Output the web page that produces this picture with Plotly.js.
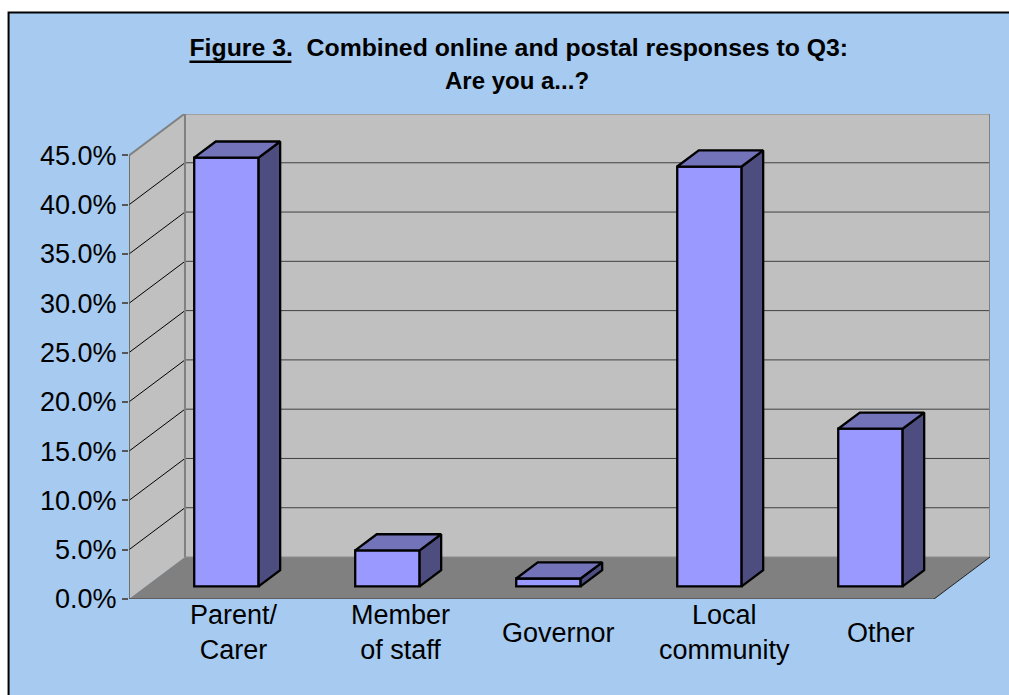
<!DOCTYPE html>
<html>
<head>
<meta charset="utf-8">
<script src="https://cdn.plot.ly/plotly-3.0.1.min.js"></script>
<style>html,body{margin:0;padding:0;background:#fff;overflow:hidden}</style>
</head>
<body>
<div id="chart" style="width:1009px;height:695px"></div>
<script>
// ---- data ----
const categoryLines = [["Parent/", "Carer"], ["Member", "of staff"], ["Governor"], ["Local", "community"], ["Other"]];
const shareValues = [43.5, 3.65, 0.8, 42.6, 16.0];
const tickValues = [0, 5, 10, 15, 20, 25, 30, 35, 40, 45];
const tickLabels = ["0.0%", "5.0%", "10.0%", "15.0%", "20.0%", "25.0%", "30.0%", "35.0%", "40.0%", "45.0%"];
const labelCenters = [0.652, 1.685, 2.667, 3.696, 4.671];
const titleLine1 = "Figure 3.  Combined online and postal responses to Q3:";
const titleLine2 = "Are you a...?";

// ---- geometry of the oblique view ----
const W = 1009, H = 695;
const left = 128.5, bottom = 598.7, frontRight = 934, backTop = 113.5, backRight = 990;
const top45 = 155;
const catPx = (frontRight - left) / 5, valPx = (bottom - top45) / 45;
const xMax = (backRight - left) / catPx, yMax = (bottom - backTop) / valPx;
const depthX = (backRight - frontRight) / catPx, depthY = 42 / valPx;
const barLeft = 0.405, barWidth = 0.4, barD0 = 0.30, barD1 = 0.685;
const paperX = p => (p - left) / (backRight - left);
const paperY = p => (bottom - p) / (bottom - backTop);

const poly = (pts, fill, color, width) => ({
  type: 'path', xref: 'x', yref: 'y', layer: 'below',
  path: 'M' + pts.map(p => p[0] + ',' + p[1]).join('L') + (fill ? 'Z' : ''),
  fillcolor: fill || 'rgba(0,0,0,0)', line: {color: color || 'rgba(0,0,0,0)', width: width || 0}
});
const F = 5; // categories
const shapes = [
  {type: 'rect', xref: 'paper', yref: 'paper', layer: 'below',
   x0: paperX(8), x1: paperX(1030), y0: paperY(12), y1: paperY(720),
   fillcolor: '#A6CAF0', line: {color: '#000', width: 2}},
  poly([[0, 0], [depthX, depthY], [depthX, 45 + depthY], [0, 45]], '#C0C0C0'),
  poly([[depthX, depthY], [F + depthX, depthY], [F + depthX, 45 + depthY], [depthX, 45 + depthY]], '#C0C0C0'),
  poly([[0, 0], [F, 0], [F + depthX, depthY], [depthX, depthY]], '#808080'),
  {type: 'line', xref: 'paper', yref: 'paper', layer: 'above',
   x0: paperX(189), x1: paperX(291), y0: paperY(61.3), y1: paperY(61.3), line: {color: '#000', width: 2.6}}
];
tickValues.slice(1, -1).forEach(v => {
  shapes.push(poly([[0, v], [depthX, v + depthY]], null, '#000', 1));
  shapes.push(poly([[depthX, v + depthY], [F + depthX, v + depthY]], null, '#404040', 1));
});
shapes.push(poly([[depthX, depthY], [depthX, 45 + depthY], [F + depthX, 45 + depthY], [F + depthX, depthY]], null, '#808080', 2));
shapes.push(poly([[0, 45], [depthX, 45 + depthY]], null, '#808080', 2));
shapes.push(poly([[depthX, depthY], [F + depthX, depthY]], null, '#8c8c8c', 1));
shapes.push(poly([[0, 0], [0, 45]], null, '#555', 1.5));
shapes.push(poly([[0, 0], [F, 0]], null, '#555', 1.5));
shapes.push(poly([[F, 0], [F + depthX, depthY]], null, '#222', 1));

// ---- bar faces ----
const base = barD0 * depthY;
const dx = (barD1 - barD0) * depthX, dy = (barD1 - barD0) * depthY;
const sideX = [], sideY = [], topX = [], topY = [];
shareValues.forEach((v, i) => {
  const xl = i + barLeft, xr = xl + barWidth, t = base + v;
  sideX.push(xr, xr + dx, xr + dx, xr, xr, null);
  sideY.push(base, base + dy, t + dy, t, base, null);
  topX.push(xl, xl + dx, xr + dx, xr, xl, null);
  topY.push(t, t + dy, t + dy, t, t, null);
});
const traces = [
  {type: 'bar', x: shareValues.map((v, i) => i + barLeft + barWidth / 2), y: shareValues, base: base,
   width: barWidth, marker: {color: '#9999FF', line: {color: '#000', width: 2.3}},
   hoverinfo: 'y', showlegend: false},
  {type: 'scatter', mode: 'lines', x: sideX, y: sideY, fill: 'toself', fillcolor: '#4D4D80',
   line: {color: '#000', width: 2.3}, hoverinfo: 'skip', showlegend: false, cliponaxis: false},
  {type: 'scatter', mode: 'lines', x: topX, y: topY, fill: 'toself', fillcolor: '#7373BA',
   line: {color: '#000', width: 2.3}, hoverinfo: 'skip', showlegend: false, cliponaxis: false}
];

const font = 'Liberation Sans, Arial, sans-serif';
const annotations = categoryLines.map((lines, i) => ({
  xref: 'x', yref: 'paper', x: labelCenters[i], y: paperY(632.5), text: lines.join('<br>'),
  showarrow: false, xanchor: 'center', yanchor: 'middle',
  font: {family: font, size: 27, color: '#000'}
}));
annotations.push({
  xref: 'paper', yref: 'paper', x: paperX(517), y: paperY(80), text: '<b>' + titleLine2 + '</b>',
  showarrow: false, xanchor: 'center', yanchor: 'middle',
  font: {family: font, size: 24, color: '#000'}
});

const layout = {
  width: W, height: H,
  paper_bgcolor: '#fff', plot_bgcolor: 'rgba(0,0,0,0)',
  margin: {l: left, r: W - backRight, t: backTop, b: H - bottom, pad: 0},
  title: {text: '<b>' + titleLine1 + '</b>', font: {family: font, size: 24.8, color: '#000'},
          x: paperX(518.5), xanchor: 'center', xref: 'paper', y: 1 - 47 / H, yanchor: 'middle'},
  xaxis: {range: [0, xMax], showgrid: false, zeroline: false, showline: false, showticklabels: false, ticks: ''},
  yaxis: {range: [0, yMax], tickmode: 'array', tickvals: tickValues, ticktext: tickLabels,
          showgrid: false, zeroline: false, showline: false, ticks: 'outside', ticklen: 6, tickwidth: 1.5,
          tickcolor: '#555', tickfont: {family: font, size: 27, color: '#000'}},
  shapes: shapes,
  annotations: annotations,
  showlegend: false
};
Plotly.newPlot('chart', traces, layout, {displayModeBar: false, responsive: false});
</script>
</body>
</html>
